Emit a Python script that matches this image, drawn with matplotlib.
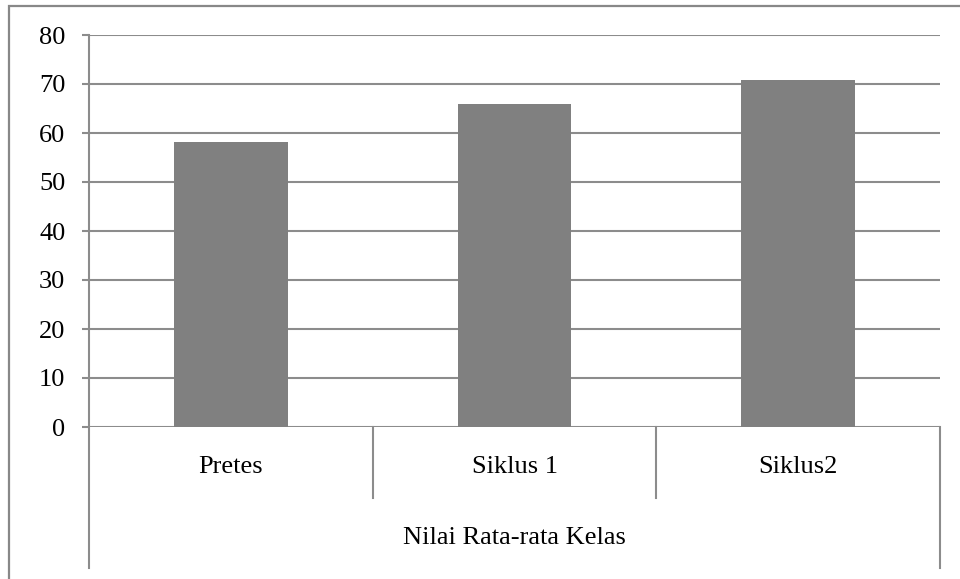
import numpy as np
import matplotlib.pyplot as plt
from matplotlib.patches import Rectangle

categories = ["Pretes", "Siklus 1", "Siklus2"]
values = [58.1, 65.9, 70.8]
group_label = "Nilai Rata-rata Kelas"
y_ticks = [0, 10, 20, 30, 40, 50, 60, 70, 80]

W, H = 960, 579
LINE = '#8c8c8c'
BAR = '#808080'
FS = 19

plt.rcParams['font.family'] = ['Liberation Serif', 'DejaVu Serif']

fig = plt.figure(figsize=(W / 100, H / 100), dpi=100)

# outer chart frame (only left and top edges fall inside the picture)
fig.patches.append(Rectangle((9 / W, -0.05), 1.1, 1 - 6 / H + 0.05,
                             transform=fig.transFigure, fill=False,
                             edgecolor='#888888', linewidth=1.6))

left, right, top, bottom = 89, 940, 35, 427
ax = fig.add_axes([left / W, 1 - bottom / H, (right - left) / W, (bottom - top) / H])

x = np.arange(len(categories)) + 0.5
ax.bar(x, values, width=0.4, color=BAR, zorder=3)

ax.set_xlim(0, len(categories))
ax.set_ylim(0, 80)
ax.set_yticks(y_ticks)
ax.set_xticks([])
ax.yaxis.grid(True, color=LINE, linewidth=1.5)
ax.set_axisbelow(True)
ax.tick_params(axis='y', length=5, width=1.5, color=LINE, pad=12, labelsize=FS)

for s in ['top', 'right', 'bottom', 'left']:
    ax.spines[s].set_visible(False)

tr = ax.get_xaxis_transform()
y_inner = -(498 - bottom) / (bottom - top)
y_outer = -(568 - bottom) / (bottom - top)
# left axis line runs down through the category area
ax.plot([0, 0], [1, y_outer], transform=tr, color=LINE, linewidth=1.5, clip_on=False)
ax.plot([len(categories)] * 2, [0, y_outer], transform=tr, color=LINE, linewidth=1.5, clip_on=False)
for i in range(1, len(categories)):
    ax.plot([i, i], [0, y_inner], transform=tr, color=LINE, linewidth=1.5, clip_on=False)

y_cat = -(467 - bottom) / (bottom - top)
for xi, name in zip(x, categories):
    ax.text(xi, y_cat, name, transform=tr, ha='center', va='center', fontsize=FS)

y_grp = -(538 - bottom) / (bottom - top)
ax.text(len(categories) / 2, y_grp, group_label, transform=tr, ha='center', va='center', fontsize=FS)

fig.savefig('out.png', dpi=100)
